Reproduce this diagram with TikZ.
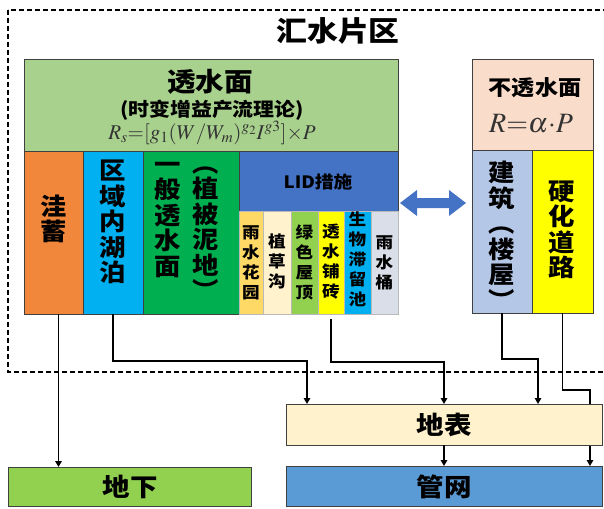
\documentclass[tikz,border=0pt]{standalone}
\usepackage{mathptmx}
\usepackage{fontspec}
\newfontfamily\cjk{Noto Sans CJK SC}[FakeStretch=1.1]
\usetikzlibrary{arrows.meta,fit}
\definecolor{tsmgreen}{HTML}{A9D18E}
\definecolor{pinkbg}{HTML}{F9DCC9}
\definecolor{orangec}{HTML}{F0873A}
\definecolor{cyanc}{HTML}{00B0F0}
\definecolor{dgreen}{HTML}{00B050}
\definecolor{lidblue}{HTML}{4472C4}
\definecolor{yellowl}{HTML}{FFD966}
\definecolor{creamc}{HTML}{FFF2CC}
\definecolor{lgreen}{HTML}{92D050}
\definecolor{yellowc}{HTML}{FFFF00}
\definecolor{greyc}{HTML}{D9DEE8}
\definecolor{jzblue}{HTML}{B4C7E7}
\definecolor{gwblue}{HTML}{5B9BD5}
\definecolor{frame}{HTML}{404040}
\tikzset{
  bx/.style={draw=frame, line width=1pt, inner sep=0pt, outer sep=0pt},
  sbx/.style={draw=gray!55, line width=0.8pt, inner sep=0pt, outer sep=0pt},
  big/.style={font=\cjk\bfseries\fontsize{24}{25.5}\selectfont, align=center, inner sep=0pt},
  small/.style={font=\cjk\bfseries\fontsize{16}{20}\selectfont, align=center, inner sep=0pt},
  lbl/.style={font=\cjk\bfseries\fontsize{25}{27}\selectfont, inner sep=0pt},
  arr/.style={draw=black, line width=1.6pt, -{Triangle[length=6pt,width=6.5pt]}},
}
\begin{document}
\begin{tikzpicture}[x=1pt,y=-1pt]
\useasboundingbox (0,0) rectangle (604,508);
% dashed catchment frame
\draw[line width=1.3pt, dash pattern=on 5pt off 3pt] (8,10) rectangle (650,372);
\node[font=\cjk\bfseries\fontsize{28}{30}\selectfont, inner sep=0pt] (title) at (338,31) {汇水片区};

% pervious surface
\node[bx, fill=tsmgreen, fit={(24,60)(398,151)}] (tsm) {};
\node[font=\cjk\bfseries\fontsize{26}{28}\selectfont, inner sep=0pt] (tsmt) at (210,82) {透水面};
\node[font=\cjk\bfseries\fontsize{19}{21}\selectfont, inner sep=0pt] (tsmf0) at (212,110) {(时变增益产流理论)};
\node[font=\fontsize{21}{23}\selectfont, inner sep=0pt, text=black!80] (tsmf) at (212,133) {$R_s{=}[g_1(W/W_m)^{g_2} I^{g3}]{\times}P$};

\node[bx, fill=orangec, fit={(24,151)(83,314)}] (wa) {};
\node[bx, fill=cyanc, fit={(83,151)(143,314)}] (hu) {};
\node[bx, fill=dgreen, fit={(143,151)(239,314)}] (yb) {};
\node[bx, fill=lidblue, fit={(239,151)(398,211)}] (lid) {};
\node[sbx, fill=yellowl, fit={(239,211)(263,314)}] (s1) {};
\node[sbx, fill=creamc, fit={(263,211)(291,314)}] (s2) {};
\node[sbx, fill=lgreen, fit={(291,211)(318,314)}] (s3) {};
\node[sbx, fill=yellowc, fit={(318,211)(344,314)}] (tp) {};
\node[sbx, fill=cyanc, fit={(344,211)(371,314)}] (s5) {};
\node[sbx, fill=greyc, fit={(371,211)(398,314)}] (s6) {};

\node[big] (wat) at (54,219) {洼\\蓄};
\node[big] (hut) at (113,222) {区\\域\\内\\湖\\泊};
\node[big] (ybt1) at (168,220) {一\\般\\透\\水\\面};
\node[big] (ybt2) at (206,233) {︵\\植\\被\\泥\\地\\︶};
\node[font=\cjk\bfseries\fontsize{17}{19}\selectfont, inner sep=0pt] (lidt) at (318,182) {LID措施};
\node[small] (s1t) at (251,263) {雨\\水\\花\\园};
\node[small] (s2t) at (277,261) {植\\草\\沟};
\node[small] (s3t) at (304.5,262) {绿\\色\\屋\\顶};
\node[small] (s4t) at (331,262) {透\\水\\铺\\砖};
\node[small] (s5t) at (357.5,259) {生\\物\\滞\\留\\池};
\node[small] (s6t) at (384.5,263) {雨\\水\\桶};

% impervious surface
\node[bx, fill=pinkbg, fit={(472,60)(593,150)}] (btsm) {};
\node[font=\cjk\bfseries\fontsize{21}{23}\selectfont, inner sep=0pt] (btsmt) at (535,88) {不透水面};
\node[font=\fontsize{28}{30}\selectfont, inner sep=0pt, text=black!80] (btsmf) at (531,124) {$R{=}\alpha{\cdot}P$};
\node[bx, fill=jzblue, fit={(472,150)(532,313)}] (jz) {};
\node[bx, fill=yellowc, fit={(532,150)(593,313)}] (yh) {};
\node[big] (jzt) at (502,235) {建\\筑\\︵\\楼\\屋\\︶};
\node[big] (yht) at (562,230) {硬\\化\\道\\路};

% double arrow between LID and impervious surface
\fill[lidblue] (400,203) -- (417,190) -- (417,198) -- (449,198) -- (449,190) -- (466,203)
  -- (449,216) -- (449,208) -- (417,208) -- (417,216) -- cycle;

% sinks
\node[bx, fill=lgreen, fit={(8,467)(251,506)}] (dixia) {};
\node[lbl] (dixiat) at (130,487) {地下};
\node[bx, fill=gwblue, fit={(286,466)(602,506)}] (gw) {};
\node[lbl] (gwt) at (444,487) {管网};

% road runoff goes behind the surface box to the network
\draw[arr] (yh.south) -- ++(0,77) -| ([xshift=146pt]gw.north);

\node[bx, fill=creamc, fit={(286,404)(602,445)}] (db) {};
\node[lbl] (dbt) at (444,425) {地表};

% connectors
\coordinate (w1) at ([xshift=5pt]wa.south);
\draw[arr] (w1) -- (w1 |- dixia.north);
\draw[arr] (hu.south) -- ++(0,47) -| ([xshift=-137pt]db.north);
\draw[arr, shorten <=5pt] (tp.south) -- ++(0,48) -| (db.north);
\draw[arr] (jz.south) -- ++(0,46) -| ([xshift=94pt]db.north);
\draw[arr] (db.south) -- (gw.north);
\end{tikzpicture}
\end{document}
